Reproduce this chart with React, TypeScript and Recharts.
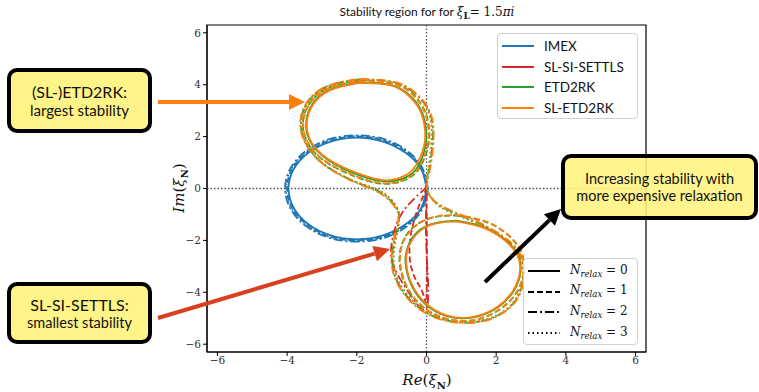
import { LineChart, Line, XAxis, YAxis, ReferenceLine, ReferenceArea } from "recharts";

// ---- data: [Re, Im] points along each boundary ----
const ticks = [-6, -4, -2, 0, 2, 4, 6];

// IMEX (blue), one curve per N_relax
const imex0 = [[0, 0], [-0.15, 0.75], [-0.6, 1.38], [-1.25, 1.81], [-2, 1.96], [-2.75, 1.81], [-3.39, 1.38], [-3.81, 0.75], [-3.96, 0], [-3.81, -0.75], [-3.39, -1.38], [-2.75, -1.81], [-2, -1.96], [-1.25, -1.81], [-0.6, -1.38], [-0.15, -0.75], [0, 0]];
const imex1 = [[0, 0], [-0.15, 0.77], [-0.59, 1.41], [-1.23, 1.85], [-2, 2], [-2.77, 1.85], [-3.41, 1.41], [-3.85, 0.77], [-4, 0], [-3.85, -0.77], [-3.41, -1.41], [-2.77, -1.85], [-2, -2], [-1.23, -1.85], [-0.59, -1.41], [-0.15, -0.77], [0, 0]];
const imex2 = [[0.04, 0], [-0.12, 0.79], [-0.56, 1.46], [-1.21, 1.9], [-2, 2.05], [-2.79, 1.9], [-3.45, 1.46], [-3.9, 0.79], [-4.06, 0], [-3.9, -0.79], [-3.45, -1.46], [-2.79, -1.9], [-2, -2.05], [-1.21, -1.9], [-0.56, -1.46], [-0.12, -0.79], [0.04, 0]];
const imex3 = [[0.02, 0], [-0.13, 0.78], [-0.57, 1.43], [-1.22, 1.87], [-2, 2.02], [-2.78, 1.87], [-3.43, 1.43], [-3.87, 0.78], [-4.03, 0], [-3.87, -0.78], [-3.43, -1.43], [-2.78, -1.87], [-2, -2.02], [-1.22, -1.87], [-0.57, -1.43], [-0.13, -0.78], [0.02, 0]];

// SL-SI-SETTLS (red)
const settls1 = [[0, 0.05], [-0.08, -0.25], [-0.28, -0.9], [-0.45, -1.8], [-0.48, -2.7], [-0.33, -3.45], [-0.1, -4.05], [0, -4.3], [0.01, -2.2], [0, 0.05]];
const settls2 = [[0, 0.08], [-0.12, -0.1], [-0.69, -0.92], [-0.98, -1.96], [-0.98, -2.85], [-0.57, -3.88], [0, -4.6], [0, -2.4], [0, -0.2]];

// ETD2RK (green)
const etdUp0 = [[-1.92, 4.09], [-1.05, 4.0], [-0.53, 3.64], [-0.17, 3.06], [-0.02, 2.35], [-0.03, 1.63], [-0.24, 0.86], [-0.58, 0.44], [-1.06, 0.27], [-1.61, 0.37], [-2.31, 0.72], [-2.96, 1.23], [-3.37, 1.9], [-3.45, 2.6], [-3.27, 3.26], [-2.76, 3.82], [-1.92, 4.09]];
const etdLow0 = [[0.85, -1.24], [1.61, -1.47], [2.22, -1.93], [2.62, -2.54], [2.7, -3.2], [2.52, -3.91], [2.06, -4.57], [1.35, -4.97], [0.59, -4.92], [-0.02, -4.47], [-0.42, -3.76], [-0.6, -2.9], [-0.52, -2.19], [-0.22, -1.63], [0.25, -1.33], [0.85, -1.24]];
const etdUp1 = [[-1.92, 4.15], [-0.99, 4.06], [-0.44, 3.69], [-0.08, 3.08], [0.07, 2.35], [0.04, 1.59], [-0.2, 0.79], [-0.57, 0.36], [-1.06, 0.18], [-1.66, 0.28], [-2.39, 0.66], [-3.06, 1.19], [-3.46, 1.9], [-3.54, 2.62], [-3.34, 3.3], [-2.8, 3.88], [-1.92, 4.15]];
const etdLow1 = [[0.85, -1.04], [1.71, -1.29], [2.36, -1.81], [2.74, -2.5], [2.79, -3.26], [2.59, -4.01], [2.1, -4.66], [1.35, -5.08], [0.54, -5.01], [-0.12, -4.55], [-0.57, -3.8], [-0.77, -2.9], [-0.69, -2.09], [-0.36, -1.47], [0.2, -1.11], [0.85, -1.04]];
const etd2 = [[-1.92, 4.2], [-0.96, 4.1], [-0.37, 3.7], [0.03, 3.1], [0.18, 2.35], [0.16, 1.52], [0.06, 0.62], [0.01, 0.0], [0.38, -0.66], [1.31, -1.22], [2.16, -1.84], [2.68, -2.56], [2.78, -3.48], [2.49, -4.43], [1.8, -5.03], [1.0, -5.16], [0.21, -4.93], [-0.48, -4.28], [-0.9, -3.39], [-0.98, -2.5], [-0.86, -1.61], [-0.8, -0.93], [-1.08, -0.4], [-1.42, -0.08], [-1.94, 0.2], [-2.5, 0.56], [-3.09, 1.09], [-3.5, 1.85], [-3.6, 2.62], [-3.4, 3.34], [-2.84, 3.94], [-1.92, 4.2]];
const etd3 = [[-1.92, 4.19], [-0.97, 4.09], [-0.39, 3.71], [0.01, 3.1], [0.15, 2.35], [0.13, 1.55], [0.05, 0.64], [0.0, 0.02], [0.42, -0.72], [1.3, -1.26], [2.12, -1.86], [2.64, -2.56], [2.76, -3.45], [2.48, -4.41], [1.8, -5.01], [1.0, -5.13], [0.22, -4.91], [-0.45, -4.26], [-0.86, -3.38], [-0.94, -2.5], [-0.83, -1.62], [-0.8, -0.9], [-1.05, -0.38], [-1.4, -0.05], [-1.95, 0.22], [-2.5, 0.55], [-3.08, 1.08], [-3.49, 1.85], [-3.59, 2.62], [-3.39, 3.33], [-2.82, 3.93], [-1.92, 4.19]];

// SL-ETD2RK (orange)
const slUp0 = [[-1.92, 4.07], [-1.06, 3.98], [-0.55, 3.62], [-0.2, 3.05], [-0.05, 2.35], [-0.07, 1.65], [-0.3, 0.9], [-0.62, 0.5], [-1.06, 0.32], [-1.6, 0.42], [-2.3, 0.76], [-2.95, 1.25], [-3.35, 1.9], [-3.43, 2.6], [-3.25, 3.25], [-2.75, 3.8], [-1.92, 4.07]];
const slLow0 = [[0.85, -1.27], [1.6, -1.5], [2.2, -1.95], [2.6, -2.55], [2.68, -3.2], [2.5, -3.9], [2.05, -4.55], [1.35, -4.95], [0.6, -4.9], [0, -4.45], [-0.4, -3.75], [-0.58, -2.9], [-0.5, -2.2], [-0.2, -1.65], [0.25, -1.35], [0.85, -1.27]];
const slUp1 = [[-1.92, 4.14], [-1.0, 4.05], [-0.45, 3.68], [-0.1, 3.08], [0.05, 2.35], [0.02, 1.6], [-0.22, 0.8], [-0.58, 0.38], [-1.06, 0.2], [-1.65, 0.3], [-2.38, 0.68], [-3.05, 1.2], [-3.45, 1.9], [-3.53, 2.62], [-3.33, 3.3], [-2.8, 3.87], [-1.92, 4.14]];
const slLow1 = [[0.85, -1.02], [1.7, -1.27], [2.35, -1.8], [2.73, -2.5], [2.78, -3.25], [2.58, -4.0], [2.1, -4.65], [1.35, -5.07], [0.55, -5.0], [-0.1, -4.55], [-0.55, -3.8], [-0.75, -2.9], [-0.68, -2.1], [-0.35, -1.48], [0.2, -1.1], [0.85, -1.02]];
const sl2 = [[-1.92, 4.22], [-0.95, 4.12], [-0.35, 3.72], [0.05, 3.1], [0.2, 2.35], [0.18, 1.5], [0.08, 0.6], [0.02, 0.0], [0.37, -0.62], [1.32, -1.19], [2.18, -1.82], [2.7, -2.55], [2.8, -3.5], [2.5, -4.45], [1.8, -5.05], [1.0, -5.18], [0.2, -4.95], [-0.5, -4.3], [-0.92, -3.4], [-1.0, -2.5], [-0.88, -1.6], [-0.82, -0.95], [-1.1, -0.42], [-1.45, -0.1], [-1.95, 0.18], [-2.52, 0.55], [-3.1, 1.1], [-3.52, 1.85], [-3.62, 2.62], [-3.42, 3.35], [-2.85, 3.95], [-1.92, 4.22]];
const sl3 = [[-1.92, 4.18], [-0.98, 4.08], [-0.4, 3.7], [0.0, 3.1], [0.14, 2.35], [0.12, 1.55], [0.04, 0.65], [0.0, 0.02], [0.4, -0.72], [1.3, -1.25], [2.12, -1.85], [2.64, -2.55], [2.76, -3.45], [2.48, -4.4], [1.8, -5.0], [1.0, -5.12], [0.22, -4.9], [-0.45, -4.25], [-0.86, -3.38], [-0.94, -2.5], [-0.83, -1.62], [-0.8, -0.9], [-1.05, -0.38], [-1.4, -0.05], [-1.95, 0.22], [-2.5, 0.55], [-3.08, 1.08], [-3.48, 1.85], [-3.58, 2.62], [-3.38, 3.33], [-2.82, 3.92], [-1.92, 4.18]];

const methods = [
  { name: "IMEX", color: "#1f77b4" },
  { name: "SL-SI-SETTLS", color: "#d62728" },
  { name: "ETD2RK", color: "#2ca02c" },
  { name: "SL-ETD2RK", color: "#ff7f0e" },
];
const relaxLabels = ["0", "1", "2", "3"];
const dashes = [undefined, "6 3", "9 3 2 3", "1.5 3"];

const pts = (a: number[][]) => a.map(([x, y]) => ({ x, y }));

const curves = [
  { d: imex0, m: 0, n: 0 }, { d: imex1, m: 0, n: 1 }, { d: imex2, m: 0, n: 2 }, { d: imex3, m: 0, n: 3 },
  { d: settls1, m: 1, n: 1 }, { d: settls2, m: 1, n: 2 },
  { d: etdUp0, m: 2, n: 0 }, { d: etdLow0, m: 2, n: 0 }, { d: etdUp1, m: 2, n: 1 }, { d: etdLow1, m: 2, n: 1 },
  { d: etd2, m: 2, n: 2 }, { d: etd3, m: 2, n: 3 },
  { d: slUp0, m: 3, n: 0 }, { d: slLow0, m: 3, n: 0 }, { d: slUp1, m: 3, n: 1 }, { d: slLow1, m: 3, n: 1 },
  { d: sl2, m: 3, n: 2 }, { d: sl3, m: 3, n: 3 },
];

const serif = "'DejaVu Serif', serif";
const sans = "Lato, 'DejaVu Sans', sans-serif";
const fmt = (v: number) => String(v).replace("-", "\u2212");

const boxStyle: React.CSSProperties = {
  position: "absolute", boxSizing: "border-box", border: "4px solid #000", borderRadius: 10,
  background: "rgba(255, 243, 125, 0.92)", display: "flex", flexDirection: "column",
  alignItems: "center", justifyContent: "center", fontFamily: sans, color: "#111", lineHeight: 1.2,
};

function Arrow({ x1, y1, x2, y2, color }: { x1: number; y1: number; x2: number; y2: number; color: string }) {
  const len = Math.hypot(x2 - x1, y2 - y1);
  const ux = (x2 - x1) / len, uy = (y2 - y1) / len;
  const bx = x2 - ux * 16, by = y2 - uy * 16;
  const px = -uy * 8, py = ux * 8;
  return (
    <g>
      <line x1={x1} y1={y1} x2={bx} y2={by} stroke={color} strokeWidth={4} />
      <polygon points={`${x2},${y2} ${bx + px},${by + py} ${bx - px},${by - py}`} fill={color} />
    </g>
  );
}

export default function App() {
  return (
    <div style={{ position: "absolute", left: 0, top: 0, width: 759, height: 392, background: "#fff", overflow: "hidden" }}>
      <LineChart width={759} height={392} margin={{ top: 25, right: 113, bottom: 10, left: 167 }}>
        <XAxis type="number" dataKey="x" domain={[-6.3, 6.3]} ticks={ticks} tickFormatter={fmt} height={30}
          tickSize={4} tickMargin={1} stroke="#000" tick={{ fill: "#333", fontSize: 10.5, fontFamily: serif }} />
        <YAxis type="number" dataKey="y" domain={[-6.3, 6.3]} ticks={ticks} tickFormatter={fmt} width={40}
          tickSize={4} tickMargin={2} stroke="#000" tick={{ fill: "#333", fontSize: 10.5, fontFamily: serif }} />
        <ReferenceLine x={0} stroke="#555" strokeWidth={1.3} strokeDasharray="1.5 2" />
        <ReferenceLine y={0} stroke="#555" strokeWidth={1.3} strokeDasharray="1.5 2" />
        {curves.map((c, i) => (
          <Line key={i} data={pts(c.d)} dataKey="y" type="natural" dot={false} activeDot={false}
            stroke={methods[c.m].color} strokeWidth={1.8} strokeDasharray={dashes[c.n]}
            isAnimationActive={false} legendType="none" />
        ))}
        <ReferenceArea x1={-6.3} x2={6.3} y1={-6.3} y2={6.3} fill="none" stroke="#000" strokeWidth={1.2} />
      </LineChart>

      {/* title */}
      <div style={{ position: "absolute", left: 227, top: 4, width: 400, textAlign: "center", fontSize: 12, color: "#111" }}>
        <span style={{ fontFamily: sans }}>Stability region for for </span>
        <span style={{ fontFamily: serif, fontStyle: "italic" }}>ξ</span>
        <sub style={{ fontFamily: serif, fontWeight: "bold", fontSize: 9 }}>L</sub>
        <span style={{ fontFamily: serif }}>= 1.5<i>πi</i></span>
      </div>

      {/* axis labels */}
      <div style={{ position: "absolute", left: 327, top: 371, width: 200, textAlign: "center", fontFamily: serif, fontSize: 15, color: "#111" }}>
        <i>Re</i>(<i>ξ</i><sub style={{ fontWeight: "bold", fontSize: 10 }}>N</sub>)
      </div>
      <div style={{ position: "absolute", left: 80, top: 178, width: 200, textAlign: "center", fontFamily: serif, fontSize: 15, color: "#111", transform: "rotate(-90deg)" }}>
        <i>Im</i>(<i>ξ</i><sub style={{ fontWeight: "bold", fontSize: 10 }}>N</sub>)
      </div>

      {/* method legend */}
      <div style={{ position: "absolute", left: 497, top: 33, width: 141, height: 86, boxSizing: "border-box", border: "1px solid #d0d0d0", borderRadius: 4, background: "rgba(255,255,255,0.85)" }}>
        {methods.map((m, i) => (
          <div key={m.name} style={{ position: "absolute", left: 4, top: 3 + i * 20.7, height: 18, display: "flex", alignItems: "center" }}>
            <svg width={32} height={4}><line x1={0} y1={2} x2={32} y2={2} stroke={m.color} strokeWidth={2} /></svg>
            <span style={{ marginLeft: 10, fontFamily: sans, fontSize: 13.5, color: "#111" }}>{m.name}</span>
          </div>
        ))}
      </div>

      {/* relaxation legend */}
      <div style={{ position: "absolute", left: 523, top: 258, width: 115, height: 87, boxSizing: "border-box", border: "1px solid #d0d0d0", borderRadius: 4, background: "rgba(255,255,255,0.85)" }}>
        {relaxLabels.map((r, i) => (
          <div key={r} style={{ position: "absolute", left: 4, top: 3 + i * 20.6, height: 18, display: "flex", alignItems: "center" }}>
            <svg width={32} height={4}><line x1={0} y1={2} x2={32} y2={2} stroke="#000" strokeWidth={2} strokeDasharray={dashes[i]} /></svg>
            <span style={{ marginLeft: 10, fontFamily: serif, fontSize: 12, color: "#111", whiteSpace: "nowrap" }}>
              <i>N</i><sub style={{ fontSize: 8.5 }}><i>relax</i></sub> = {r}
            </span>
          </div>
        ))}
      </div>

      {/* annotations */}
      <svg width={759} height={392} style={{ position: "absolute", left: 0, top: 0, pointerEvents: "none" }}>
        <Arrow x1={158} y1={102} x2={305} y2={102} color="#ff7f0e" />
        <Arrow x1={158} y1={318} x2={390} y2={249} color="#d9411e" />
        <Arrow x1={485} y1={282} x2={561} y2={209} color="#000" />
      </svg>
      <div style={{ ...boxStyle, left: 7, top: 68, width: 145, height: 65 }}>
        <div style={{ fontSize: 16 }}>(SL-)ETD2RK:</div>
        <div style={{ fontSize: 15 }}>largest stability</div>
      </div>
      <div style={{ ...boxStyle, left: 7, top: 282, width: 145, height: 62 }}>
        <div style={{ fontSize: 16 }}>SL-SI-SETTLS:</div>
        <div style={{ fontSize: 14.5 }}>smallest stability</div>
      </div>
      <div style={{ ...boxStyle, left: 561, top: 154, width: 197, height: 66, background: "rgba(255, 243, 125, 0.88)" }}>
        <div style={{ fontSize: 14.5, lineHeight: 1.2 }}>Increasing stability with</div>
        <div style={{ fontSize: 14.5, lineHeight: 1.2 }}>more expensive relaxation</div>
      </div>
    </div>
  );
}
